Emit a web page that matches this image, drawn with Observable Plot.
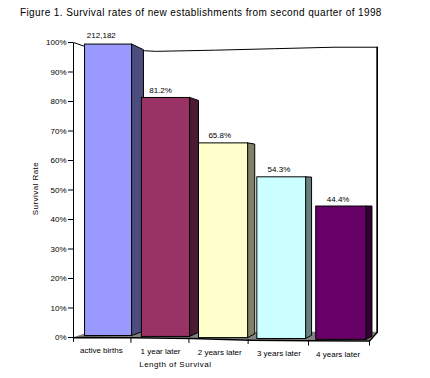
<!DOCTYPE html>
<html><head><meta charset="utf-8">
<script src="https://cdn.jsdelivr.net/npm/d3@7"></script>
<script src="https://cdn.jsdelivr.net/npm/@observablehq/plot@0.6"></script>
<style>
html,body{margin:0;padding:0;background:#fff;width:430px;height:378px;overflow:hidden}
#t{height:24px;box-sizing:border-box;padding:7px 0 0 20px;font:10px/12px "Liberation Sans",Arial,sans-serif;letter-spacing:.39px;color:#000;white-space:nowrap}
svg{display:block}
.spaced text{letter-spacing:.45px}
</style></head><body>
<div id="t">Figure 1. Survival rates of new establishments from second quarter of 1998</div>
<div id="c"></div>
<script>
const categories = ["active births","1 year later","2 years later","3 years later","4 years later"];
const rates = [100,81.2,65.8,54.3,44.4];
const valueLabels = ["212,182","81.2%","65.8%","54.3%","44.4%"];
const yTicks = [0,10,20,30,40,50,60,70,80,90,100];

// perspective of the 3-D drawing, in scale units
const inset = [.195,.155,.12,.105,.1], outer = [.99,.97,.95,.93,.95], depth = [.2,.15,.12,.1,.1];
const sink = [.5,.2,-.2,-.5,-.8], topDrop = [.7,0,0,0,0], sideDrop = [1.9,1,.4,.1,0], sideRise = [1.5,1.4,1.3,1.1,1];
const front = ["#9999ff","#993366","#ffffcc","#ccffff","#660066"];
const side = ["#4d4d80","#4d1a33","#808066","#668080","#330033"];
const axisTicks = [0,.97,1.95,2.95,3.97,5];
const axisSink = [0,-.35,-.45,-.8,-1.3,-1.3];
const wallTop = [[0,100],[.2,98.6],[1.2,97.2],[1.4,97],[2.4,97.4],[3.4,97.9],[4.4,98.4],[5.13,98.4]];
const floor = [{x:0,f:-.1,b:-.1},{x:.2,f:0,b:1.2},{x:1,f:-.1,b:1.6},{x:2,f:-.3,b:1.6},{x:3,f:-.9,b:1.7},{x:4,f:-1.1,b:1.8},{x:5,f:-1.2,b:1.8},{x:5.13,f:1.8,b:1.8}];

const bars = categories.map((c,i)=>({c,i,v:rates[i],l:valueLabels[i],x1:i+inset[i],x2:i+outer[i],top:rates[i]-topDrop[i],bot:sink[i]}));
const sides = bars.flatMap((b,i)=>[
  {i,x:b.x2,y1:b.bot,y2:b.top},
  {i,x:b.x2+depth[i],y1:b.bot+sideRise[i],y2:b.top-sideDrop[i]}]);

const plot = Plot.plot({
  width:430,height:354,marginLeft:73,marginRight:61,marginTop:18,marginBottom:41,
  style:{fontFamily:'"Liberation Sans",Arial,sans-serif',fontSize:"8px",color:"#000",background:"#fff",overflow:"visible"},
  x:{type:"linear",domain:[0,5],axis:null},
  y:{type:"linear",domain:[0,100],axis:null},
  marks:[
    Plot.line([[5.13,1.8],...wallTop.slice().reverse(),[0,0]],{x:d=>d[0],y:d=>d[1],stroke:"#000",strokeWidth:1}),
    Plot.line([[5.13,98.4],[5.13,1.8]],{x:d=>d[0],y:d=>d[1],stroke:"#000"}),
    Plot.areaY(floor,{x:"x",y1:"f",y2:"b",fill:"#808080"}),
    Plot.line(floor,{x:"x",y:"f",stroke:"#000"}),
    Plot.axisY({ticks:yTicks,tickFormat:d=>d+"%",tickSize:5,tickPadding:2,label:null,fontSize:8,anchor:"left"}),
    Plot.areaY(sides,{x:"x",y1:"y1",y2:"y2",z:"i",fill:d=>side[d.i],stroke:"#000",strokeWidth:1}),
    Plot.rect(bars,{x1:"x1",x2:"x2",y1:"bot",y2:"top",fill:d=>front[d.i],stroke:"#000",strokeWidth:1}),
    Plot.ruleX(axisTicks.map((x,i)=>({x,s:axisSink[i]})),{x:"x",y1:d=>d.s,y2:d=>d.s-1.6,stroke:"#000"}),
    Plot.text(bars,{x:d=>d.i+.47,y:d=>d.v,text:"l",dy:-7.5,fontSize:8}),
    Plot.text(bars,{x:d=>d.i+.47,y:d=>-4.4-d.i*.33,text:"c",fontSize:8}),
    Plot.text(["Length of Survival"],{x:1.72,y:-9,fontSize:8,className:"spaced"}),
    Plot.text(["Survival Rate"],{x:-.65,y:50.5,rotate:-90,fontSize:8,className:"spaced"})
  ]
});
document.getElementById("c").append(plot);
</script></body></html>
